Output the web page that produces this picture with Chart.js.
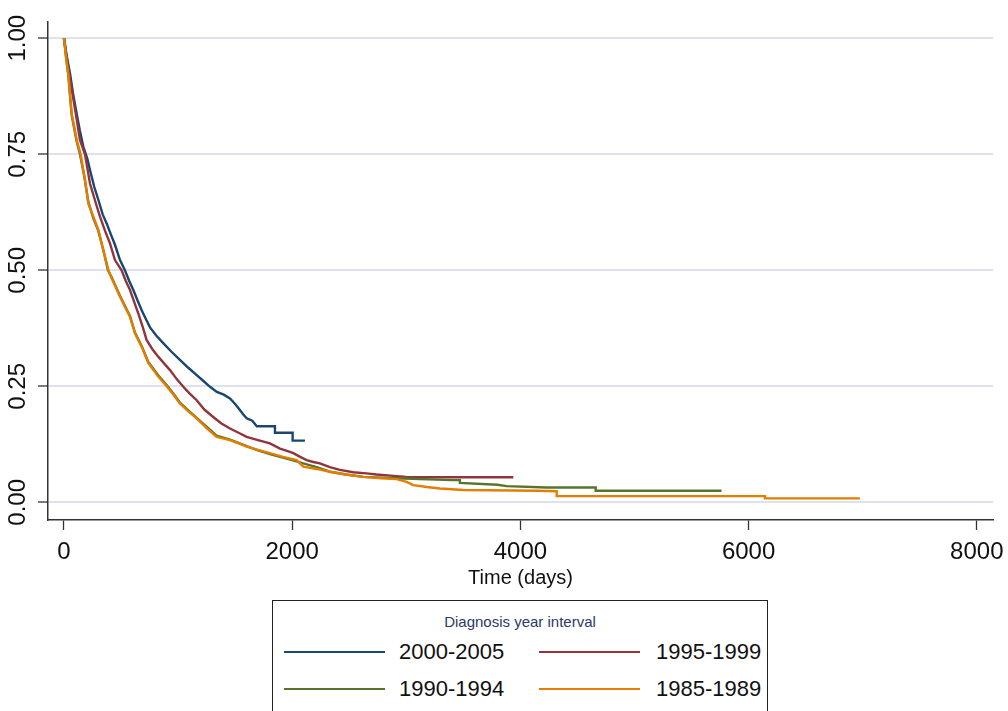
<!DOCTYPE html>
<html>
<head>
<meta charset="utf-8">
<script src="https://cdn.jsdelivr.net/npm/chart.js@4"></script>
<style>
  html, body { margin: 0; padding: 0; background: #fff; }
  #wrap { position: relative; width: 1008px; height: 711px; overflow: hidden; font-family: 'Liberation Sans', Arial, sans-serif; }
  #c { position: absolute; left: 0; top: 0; }
  #legend { position: absolute; left: 272px; top: 600px; width: 494px; height: 130px; border: 1.5px solid #222; background: #fff; }
  #legend .ttl { position: absolute; left: 0; width: 100%; top: 12px; text-align: center; font-size: 15px; color: #2b3a67; }
  #legend .ln { position: absolute; width: 101px; height: 0; border-top: 2.6px solid #000; }
  #legend .lb { position: absolute; font-size: 22px; color: #111; line-height: 22px; }
</style>
</head>
<body>
<div id="wrap">
  <canvas id="c" width="1008" height="711"></canvas>
  <div id="legend"></div>
</div>
<script>
// ---- Data ----
// Survival estimates; a repeated time marks a visible vertical step.
const legendTitle = 'Diagnosis year interval';
const seriesNames = ['2000-2005', '1995-1999', '1990-1994', '1985-1989'];
const seriesColors = ['#1a476f', '#90353b', '#55752f', '#e37e00'];

const t2000 = [0,25,53,80,111,140,170,205,228,265,301,340,374,410,447,491,534,570,607,645,681,720,754,810,870,940,1016,1090,1163,1220,1280,1340,1400,1455,1500,1542,1570,1601,1650,1690,1747,1849,1849,2004,2004,2112];
const s2000 = [1,0.96,0.924,0.88,0.838,0.80,0.766,0.74,0.716,0.68,0.652,0.62,0.601,0.578,0.555,0.522,0.50,0.478,0.458,0.435,0.414,0.394,0.377,0.359,0.343,0.325,0.307,0.29,0.274,0.262,0.249,0.238,0.232,0.224,0.212,0.199,0.19,0.181,0.176,0.164,0.164,0.164,0.150,0.150,0.133,0.133];

const t1995 = [0,20,45,75,105,140,184,228,280,315,360,403,447,505,540,578,615,651,690,724,775,826,875,929,990,1046,1100,1163,1230,1308,1380,1455,1530,1601,1700,1805,1893,1980,2010,2070,2127,2185,2243,2330,2418,2535,2650,2740,2886,3000,3178,3938];
const s1995 = [1,0.965,0.925,0.88,0.835,0.781,0.75,0.687,0.644,0.616,0.585,0.558,0.522,0.50,0.478,0.458,0.432,0.407,0.378,0.35,0.33,0.314,0.30,0.285,0.265,0.249,0.235,0.220,0.20,0.184,0.170,0.159,0.150,0.141,0.134,0.127,0.116,0.109,0.106,0.098,0.091,0.087,0.084,0.076,0.070,0.065,0.0625,0.060,0.057,0.055,0.054,0.054];

const t1990 = [0,20,38,67,90,111,140,180,213,257,301,344,385,418,491,549,578,622,681,740,826,900,960,1016,1090,1163,1250,1338,1455,1530,1601,1700,1805,1893,2000,2097,2214,2331,2470,2623,2915,3400,3470,3470,3800,3879,4230,4660,4660,5763];
const s1990 = [1,0.955,0.92,0.835,0.805,0.778,0.75,0.70,0.648,0.612,0.585,0.545,0.50,0.485,0.445,0.416,0.402,0.366,0.337,0.302,0.274,0.253,0.234,0.215,0.198,0.182,0.163,0.144,0.135,0.128,0.121,0.112,0.104,0.098,0.091,0.084,0.076,0.066,0.060,0.055,0.052,0.048,0.048,0.042,0.038,0.035,0.032,0.032,0.025,0.025];

const t1985 = [0,20,38,67,90,111,146,184,213,257,301,344,390,418,491,549,578,622,681,740,826,900,960,1016,1090,1163,1250,1338,1455,1530,1601,1700,1805,1920,2039,2097,2214,2331,2470,2623,2780,2915,3003,3061,3180,3295,3500,4150,4318,4318,6143,6143,6975];
const s1985 = [1,0.955,0.924,0.838,0.81,0.781,0.75,0.695,0.644,0.616,0.587,0.544,0.50,0.483,0.443,0.414,0.40,0.364,0.335,0.30,0.271,0.25,0.232,0.213,0.196,0.181,0.16,0.141,0.134,0.127,0.120,0.113,0.106,0.098,0.091,0.077,0.072,0.066,0.060,0.055,0.052,0.050,0.044,0.037,0.033,0.030,0.0265,0.025,0.024,0.0135,0.0135,0.0086,0.0086];

const xTicks = [0, 2000, 4000, 6000, 8000];
const yTicks = [0, 0.25, 0.5, 0.75, 1];
const xTitle = 'Time (days)';

// ---- Build chart ----
const times = [t2000, t1995, t1990, t1985];
const surv = [s2000, s1995, s1990, s1985];
const FONT = "'Liberation Sans', Arial, sans-serif";

const datasets = seriesNames.map((name, i) => ({
  label: name,
  data: times[i].map((t, j) => ({ x: t, y: surv[i][j] })),
  borderColor: seriesColors[i],
  backgroundColor: seriesColors[i],
  borderWidth: 2.4,
  pointRadius: 0,
  tension: 0,
  fill: false,
  order: seriesNames.length - i
}));

const yLabelPlugin = {
  id: 'yLabels',
  afterDraw(chart) {
    const sc = chart.scales.y;
    const ctx = chart.ctx;
    ctx.save();
    ctx.fillStyle = '#111';
    ctx.font = '24px ' + FONT;
    ctx.textAlign = 'center';
    ctx.textBaseline = 'middle';
    sc.ticks.forEach(tk => {
      const py = sc.getPixelForValue(tk.value);
      ctx.save();
      ctx.translate(18, py);
      ctx.rotate(-Math.PI / 2);
      ctx.fillText(tk.value.toFixed(2), 0, 0);
      ctx.restore();
    });
    ctx.restore();
  }
};

new Chart(document.getElementById('c'), {
  type: 'line',
  data: { datasets },
  options: {
    responsive: false,
    animation: false,
    events: [],
    layout: { padding: { top: 22, right: 15, left: 0, bottom: 121 } },
    plugins: { legend: { display: false }, tooltip: { enabled: false } },
    scales: {
      x: {
        type: 'linear',
        min: -140,
        max: 8142,
        afterBuildTicks: s => { s.ticks = xTicks.map(v => ({ value: v })); },
        afterFit: s => { s.height = 70; s.paddingLeft = 0; s.paddingRight = 0; },
        grid: { drawOnChartArea: false, drawTicks: true, tickLength: 10, tickColor: '#333', tickWidth: 1.3 },
        border: { display: true, color: '#333', width: 1.5 },
        ticks: { font: { size: 24, family: FONT }, color: '#111', padding: 8, maxRotation: 0, autoSkip: false, callback: v => String(v) },
        title: { display: true, text: xTitle, font: { size: 20, family: FONT }, color: '#111', padding: { top: 0, bottom: 0 } }
      },
      y: {
        type: 'linear',
        min: -0.038,
        max: 1.035,
        afterBuildTicks: s => { s.ticks = yTicks.map(v => ({ value: v })); },
        afterFit: s => { s.width = 48; s.paddingTop = 0; s.paddingBottom = 0; },
        grid: { color: '#dde2ee', lineWidth: 2, drawTicks: true, tickLength: 10, tickColor: '#333', tickWidth: 1.3 },
        border: { display: true, color: '#333', width: 1.5 },
        ticks: { display: false }
      }
    }
  },
  plugins: [yLabelPlugin]
});

// ---- Legend box (HTML text) ----
const lg = document.getElementById('legend');
const ttl = document.createElement('div');
ttl.className = 'ttl';
ttl.textContent = legendTitle;
lg.appendChild(ttl);
const colLine = [11, 266], colLabel = [126, 383], rowY = [51, 88];
seriesNames.forEach((name, i) => {
  const c = i % 2, r = Math.floor(i / 2);
  const ln = document.createElement('div');
  ln.className = 'ln';
  ln.style.left = colLine[c] + 'px';
  ln.style.top = (rowY[r] - 1.3) + 'px';
  ln.style.borderTopColor = seriesColors[i];
  lg.appendChild(ln);
  const lb = document.createElement('div');
  lb.className = 'lb';
  lb.style.left = colLabel[c] + 'px';
  lb.style.top = (rowY[r] - 11) + 'px';
  lb.textContent = name;
  lg.appendChild(lb);
});
</script>
</body>
</html>
